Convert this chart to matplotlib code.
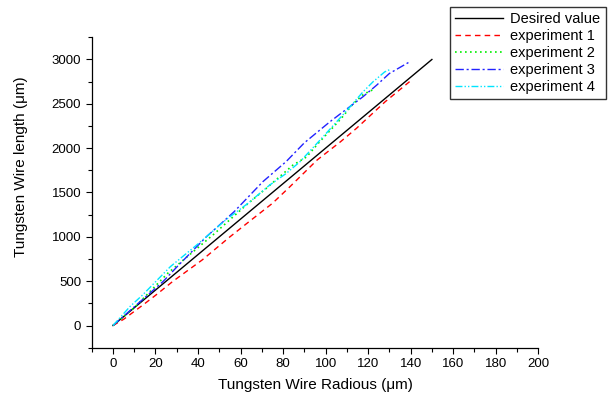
import numpy as np
import matplotlib
matplotlib.use('Agg')
import matplotlib.pyplot as plt
from matplotlib.ticker import MultipleLocator

plt.rcParams['font.family'] = ['Liberation Sans', 'DejaVu Sans']

# 理想值
desired_x = [0, 150]
desired_y = [0, 3000]

# 实验 1
exp1_x = [0, 5, 14, 20, 28, 42, 55, 64, 75, 83, 96, 107, 114.5, 128, 139.5]
exp1_y = [0, 70, 230, 340, 495, 740, 1000, 1171, 1378, 1560, 1866, 2072, 2223, 2523, 2750]

# 实验 2
exp2_x = [0, 10, 25.8, 47, 62.7, 72.1, 84.7, 91, 97.2, 107.4, 112.9, 118, 122.5]
exp2_y = [0, 200, 590, 1021, 1359, 1547, 1810, 1900, 2072, 2336, 2500, 2610, 2662]

# 实验 3
exp3_x = [0, 10, 23.5, 31, 44, 51, 57, 70.5, 81.5, 90, 102, 113.7, 117.6, 124, 130, 140]
exp3_y = [0, 210, 495, 684, 1002, 1153, 1284, 1622, 1850, 2060, 2297, 2510, 2580, 2710, 2842, 2980]

# 实验 4
exp4_x = [0, 8, 14, 27, 40, 53, 63.5, 73.7, 81.5, 88, 98.8, 109.8, 117.6, 122.3, 127.8, 130.4]
exp4_y = [0, 214, 346, 664, 920, 1190, 1378, 1584, 1715, 1848, 2128, 2420, 2635, 2748, 2860, 2888]

fig = plt.figure(figsize=(6.13, 3.99), dpi=100)
ax = fig.add_axes([0.1496, 0.1286, 0.7284, 0.7779])

l0, = ax.plot(desired_x, desired_y, color='black', lw=1.0, label='Desired value')
l1, = ax.plot(exp1_x, exp1_y, color='#ff0000', lw=1.0, ls=(0, (4, 3)), label='experiment 1')
l2, = ax.plot(exp2_x, exp2_y, color='#00ee00', lw=1.2, ls=(0, (1, 2)), label='experiment 2')
l3, = ax.plot(exp3_x, exp3_y, color='#2222ff', lw=1.0, ls=(0, (6, 2, 1.5, 2)), label='experiment 3')
l4, = ax.plot(exp4_x, exp4_y, color='#00e5ff', lw=1.0, ls=(0, (5, 1.5, 1, 1.5, 1, 1.5)), label='experiment 4')

ax.set_xlim(-10, 200)
ax.set_ylim(-250, 3250)
ax.xaxis.set_major_locator(MultipleLocator(20))
ax.xaxis.set_minor_locator(MultipleLocator(10))
ax.yaxis.set_major_locator(MultipleLocator(500))
ax.yaxis.set_minor_locator(MultipleLocator(250))
ax.tick_params(which='major', direction='out', length=4, width=0.8, labelsize=9.5, colors='black')
ax.tick_params(which='minor', direction='out', length=3, width=0.8)

for s in ['top', 'right']:
    ax.spines[s].set_visible(False)
for s in ['left', 'bottom']:
    ax.spines[s].set_linewidth(0.9)

ax.set_xlabel('Tungsten Wire Radious (\u03bcm)', fontsize=11, labelpad=6)
ax.set_ylabel('Tungsten Wire length (\u03bcm)', fontsize=11)
ax.yaxis.set_label_coords(-0.143, 0.582)

leg = fig.legend(handles=[l0, l1, l2, l3, l4], loc='upper left',
                 bbox_to_anchor=(0.734, 0.982), bbox_transform=fig.transFigure,
                 fontsize=10.5, frameon=True, fancybox=False, edgecolor='black',
                 handlelength=3.3, handletextpad=0.5, borderpad=0.35,
                 labelspacing=0.2, borderaxespad=0)
leg.get_frame().set_linewidth(1.0)

fig.savefig('out.png', dpi=100)
